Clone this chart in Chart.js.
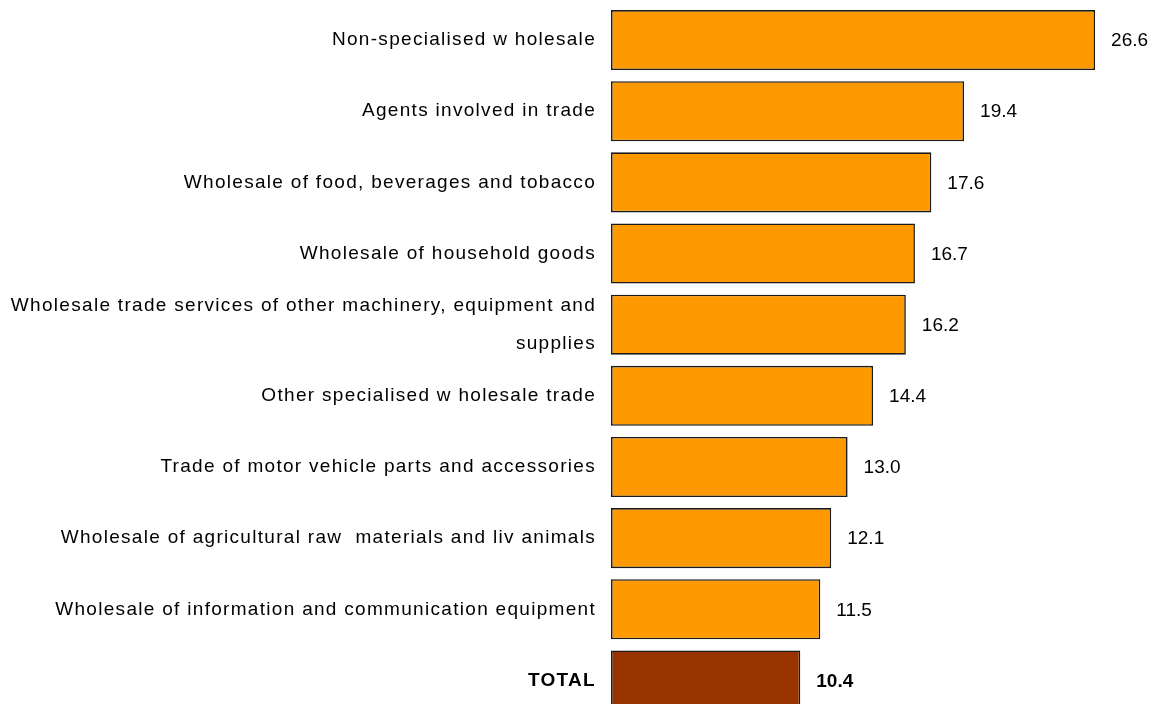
<!DOCTYPE html>
<html>
<head>
<meta charset="utf-8">
<script src="https://cdn.jsdelivr.net/npm/chart.js@4.4.1/dist/chart.umd.min.js"></script>
<style>
  html, body { margin: 0; padding: 0; background: #fff; overflow: hidden; }
  #wrap { position: relative; width: 1162px; height: 716px; }
</style>
</head>
<body>
<div id="wrap"><canvas id="salesChart"></canvas></div>
<script>
const categories = [
  "Non-specialised w holesale",
  "Agents involved in trade",
  "Wholesale of food, beverages and tobacco",
  "Wholesale of household goods",
  ["Wholesale trade services of other machinery, equipment and", "supplies"],
  "Other specialised w holesale trade",
  "Trade of motor vehicle parts and accessories",
  "Wholesale of agricultural raw  materials and liv animals",
  "Wholesale of information and communication equipment",
  "TOTAL"
];
const values = [26.6, 19.4, 17.6, 16.7, 16.2, 14.4, 13.0, 12.1, 11.5, 10.4];
const totalIndex = categories.length - 1;

const fontFamily = "'Liberation Sans', Arial, sans-serif";
const barColors = values.map((v, i) => i === totalIndex ? "#993300" : "#FF9900");

// category names are set slightly spaced out
const labelSpacing = {
  id: "labelSpacing",
  beforeDraw(chart) { chart.ctx.letterSpacing = "1.3px"; }
};

// writes the value just past the end of each bar
const valueLabels = {
  id: "valueLabels",
  afterDatasetsDraw(chart) {
    const ctx = chart.ctx;
    const meta = chart.getDatasetMeta(0);
    ctx.save();
    ctx.letterSpacing = "0px";
    ctx.fillStyle = "#000";
    ctx.textAlign = "left";
    ctx.textBaseline = "middle";
    meta.data.forEach((bar, i) => {
      ctx.font = (i === totalIndex ? "bold " : "") + "19px " + fontFamily;
      ctx.fillText(values[i].toFixed(1), bar.x + 16, bar.y + 1);
    });
    ctx.restore();
  }
};

new Chart(document.getElementById("salesChart"), {
  type: "bar",
  data: {
    labels: categories,
    datasets: [{
      data: values,
      backgroundColor: barColors,
      borderColor: "#1a1a1a",
      borderWidth: 1.6,
      borderSkipped: false,
      barPercentage: 0.844,
      categoryPercentage: 1
    }]
  },
  options: {
    indexAxis: "y",
    responsive: true,
    maintainAspectRatio: false,
    animation: false,
    layout: { padding: { top: 4.5, right: 5, left: 0, bottom: 0 } },
    plugins: {
      legend: { display: false },
      tooltip: { enabled: false }
    },
    scales: {
      x: {
        display: false,
        min: 0,
        max: 30
      },
      y: {
        afterFit(axis) {
          axis.width = 611;
          axis.paddingTop = 0;
          axis.paddingBottom = 0;
        },
        grid: { display: false, drawTicks: false },
        border: { display: false },
        ticks: {
          autoSkip: false,
          padding: 15,
          color: "#000",
          font: ctx => ({
            family: fontFamily,
            size: 19,
            weight: ctx.index === totalIndex ? "bold" : "normal",
            lineHeight: 2.0
          })
        }
      }
    }
  },
  plugins: [labelSpacing, valueLabels]
});
</script>
</body>
</html>
